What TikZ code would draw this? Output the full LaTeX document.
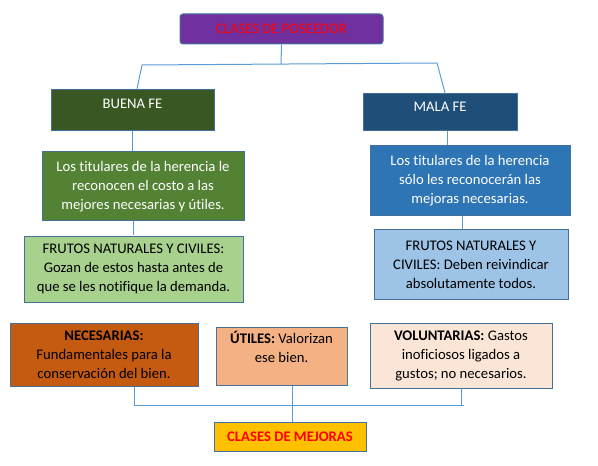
\documentclass[tikz,border=0pt]{standalone}
\usepackage{fontspec}
\setmainfont{Carlito}[Ligatures=NoCommon]
\usetikzlibrary{calc}

\definecolor{linkblue}{HTML}{5B9BD5}
\definecolor{boxline}{HTML}{41719C}
\definecolor{posfill}{HTML}{7030A0}
\definecolor{buenafill}{HTML}{385723}
\definecolor{buenatxt}{HTML}{548235}
\definecolor{buenafru}{HTML}{A9D18E}
\definecolor{malafill}{HTML}{1F4E79}
\definecolor{malatxt}{HTML}{2E75B6}
\definecolor{malafru}{HTML}{9DC3E6}
\definecolor{necfill}{HTML}{C55A11}
\definecolor{utilfill}{HTML}{F4B183}
\definecolor{volfill}{HTML}{FBE5D6}
\definecolor{mejfill}{HTML}{FFC000}

\tikzset{
  box/.style={draw=boxline, line width=0.75pt, align=center, inner sep=0pt,
    font=\fontsize{11}{14.25}\selectfont},
  link/.style={draw=linkblue, line width=0.75pt},
}

\begin{document}
\begin{tikzpicture}[x=0.75pt,y=-0.75pt]
\useasboundingbox (0,0) rectangle (598,466);

% poseedor
\node[box, fill=posfill, text=red, rounded corners=2.25pt, minimum width=203*0.75pt, minimum height=30*0.75pt] (pos) at (281.5,29) {CLASES DE POSEEDOR};

% buena fe
\node[box, fill=buenafill, text=white, minimum width=163*0.75pt, text height=14.25pt, text depth=16.5pt] (buena) at (132.5,110) {BUENA FE};
\node[box, fill=buenatxt, text=white, minimum width=202*0.75pt, minimum height=69*0.75pt] (btit) at (143,186.5) {Los titulares de la herencia le\\reconocen el costo a las\\mejores necesarias y útiles.};
\node[box, fill=buenafru, minimum width=219*0.75pt, minimum height=66*0.75pt] (bfru) at (133.5,269) {FRUTOS NATURALES Y CIVILES:\\Gozan de estos hasta antes de\\que se les notifique la demanda.};

% mala fe
\node[box, fill=malafill, text=white, minimum width=154*0.75pt, text height=14pt, text depth=13.7pt] (mala) at (440,111.7) {MALA FE};
\node[box, fill=malatxt, text=white, minimum width=200*0.75pt, minimum height=70*0.75pt] (mtit) at (470,181) {Los titulares de la herencia\\sólo les reconocerán las\\mejoras necesarias.};
\node[box, fill=malafru, minimum width=194*0.75pt, minimum height=69*0.75pt] (mfru) at (471,264.5) {FRUTOS NATURALES Y\\CIVILES: Deben reivindicar\\absolutamente todos.};

% mejoras
\node[box, fill=necfill, minimum width=188*0.75pt, minimum height=63*0.75pt] (nec) at (104,354.5) {\textbf{NECESARIAS:}\\Fundamentales para la\\conservación del bien.};
\node[box, fill=utilfill, minimum width=131*0.75pt, minimum height=58*0.75pt] (util) at (281.5,356) {\textbf{ÚTILES:} Valorizan\\ese bien.\\\mbox{}};
\node[box, fill=volfill, minimum width=182*0.75pt, minimum height=65*0.75pt] (vol) at (461,355.5) {\textbf{VOLUNTARIAS:} Gastos\\inoficiosos ligados a\\gustos; no necesarios.};
\node[box, fill=mejfill, text=red, font=\fontsize{11}{14.25}\selectfont\bfseries, minimum width=152*0.75pt, minimum height=29*0.75pt] (mej) at (290,436.5) {CLASES DE MEJORAS};

% conectores de arriba
\coordinate (jc) at (281,64);
\coordinate (jl) at (142,65);
\coordinate (jr) at (437,63);
\draw[link] (pos.south) -- (jc);
\draw[link] (jl) -- (jr);
\draw[link] (jl) -- ($(buena.north)+(4.5,0)$);
\draw[link] (jr) -- ($(mala.north)+(5,0)$);
\draw[link] (buena.south) -- (buena.south |- btit.north);
\draw[link] (btit.south -| bfru.north) -- (bfru.north);
\draw[link] ($(mala.south)+(7,0)$) -- ($(mtit.north)+(-23,0)$);
\draw[link] ($(mtit.south)+(-8,0)$) -- ($(mfru.north)+(-9,0)$);

% conectores de abajo
\coordinate (bl) at (134,405);
\coordinate (br) at (464,405);
\draw[link] ($(nec.south)+(30,0)$) -- (bl);
\draw[link] (bl) -- (br);
\draw[link] (vol.south) -- (vol.south |- br);
\draw[link] ($(util.south)+(10.5,0)$) -- ($(mej.north)+(2,0)$);
\end{tikzpicture}
\end{document}
